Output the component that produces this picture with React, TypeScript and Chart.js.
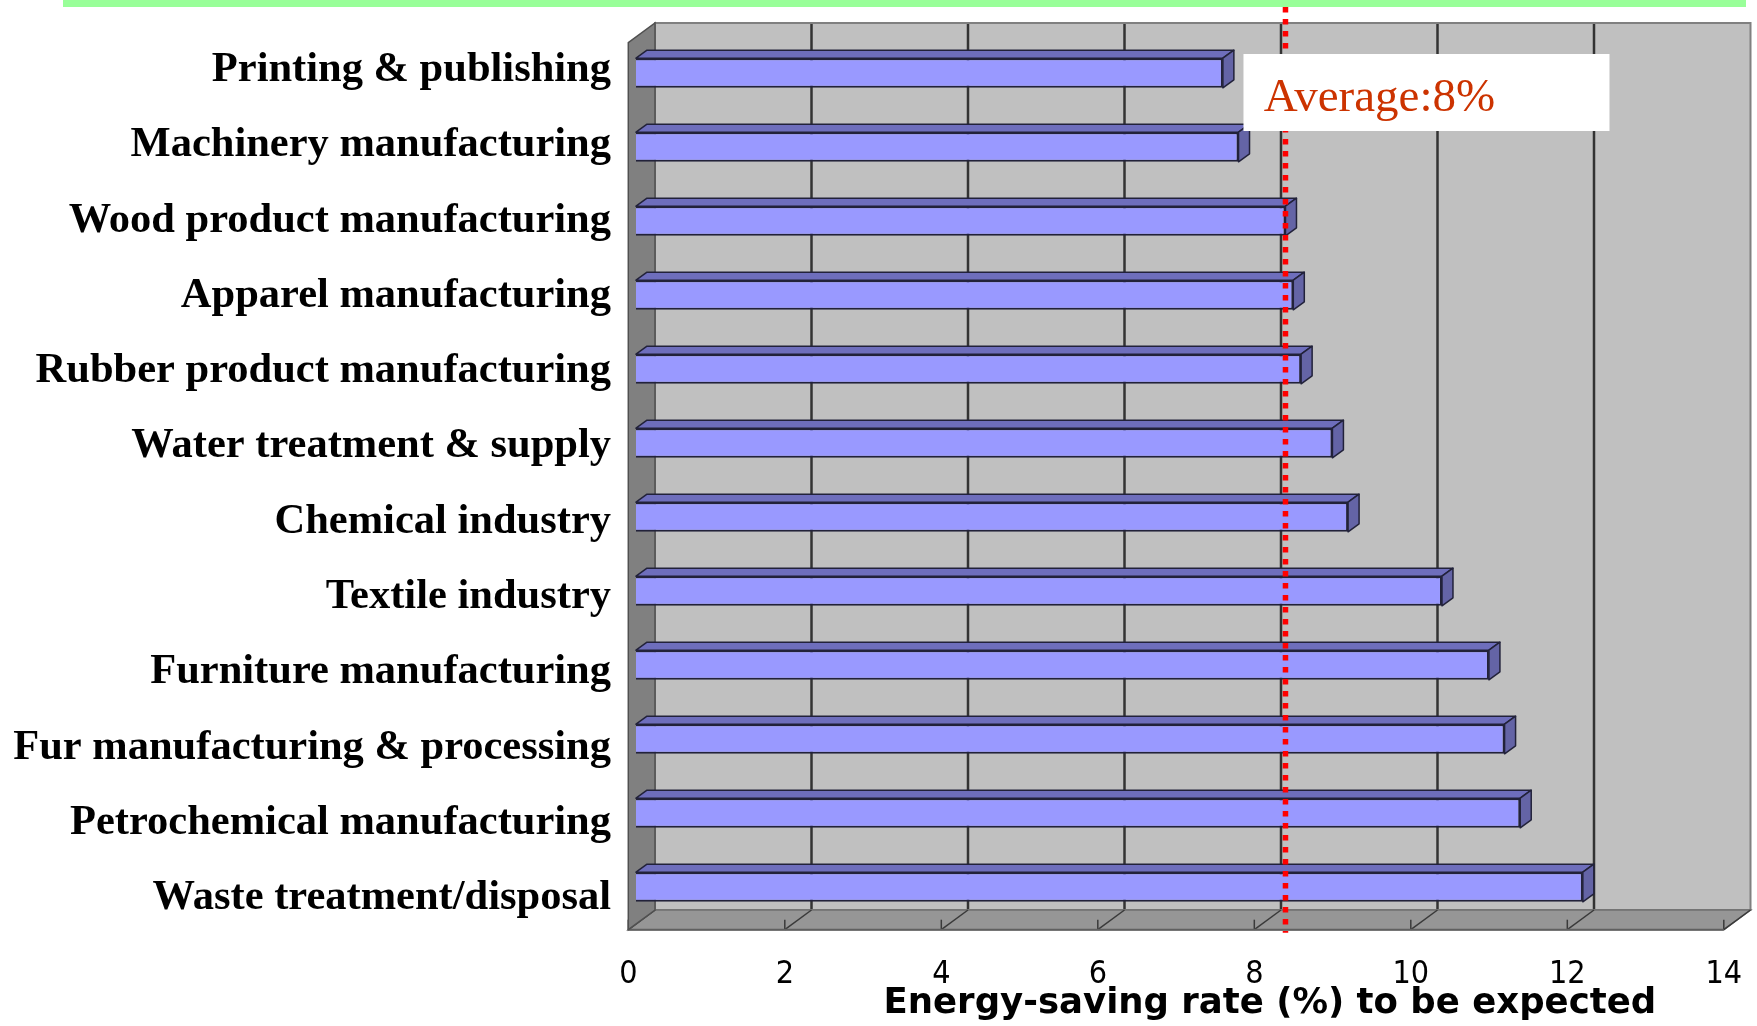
import { useEffect, useRef } from "react";
import { Chart, registerables } from "chart.js";

Chart.register(...registerables);

// ---------- data ----------
const categories = [
  "Printing & publishing",
  "Machinery manufacturing",
  "Wood product manufacturing",
  "Apparel manufacturing",
  "Rubber product manufacturing",
  "Water treatment & supply",
  "Chemical industry",
  "Textile industry",
  "Furniture manufacturing",
  "Fur manufacturing & processing",
  "Petrochemical manufacturing",
  "Waste treatment/disposal",
];
const savingRates = [7.5, 7.7, 8.3, 8.4, 8.5, 8.9, 9.1, 10.3, 10.9, 11.1, 11.3, 12.1];
const xTickValues = [0, 2, 4, 6, 8, 10, 12, 14];
const averageLineValue = 8.3;
const averageLabel = "Average:8%";
const xAxisTitle = "Energy-saving rate (%) to be expected";
const xAxisTitleCenterValue = 8.1;

// ---------- 3D styling constants ----------
const FRONT_DX = -7.7;
const FRONT_DY = 5.7;
const DEPTH_DX = 26.7;
const DEPTH_DY = -19.7;
const BAR_DX = 11;
const BAR_DY = -8;

function poly(ctx: CanvasRenderingContext2D, pts: number[][]) {
  ctx.beginPath();
  ctx.moveTo(pts[0][0], pts[0][1]);
  for (let i = 1; i < pts.length; i++) ctx.lineTo(pts[i][0], pts[i][1]);
  ctx.closePath();
}
function seg(ctx: CanvasRenderingContext2D, x1: number, y1: number, x2: number, y2: number) {
  ctx.beginPath();
  ctx.moveTo(x1, y1);
  ctx.lineTo(x2, y2);
  ctx.stroke();
}

const geometry = (chart: any) => {
  const ca = chart.chartArea;
  const xs = chart.scales.x;
  const front = (v: number) => xs.getPixelForValue(v) + FRONT_DX;
  const back = (v: number) => front(v) + DEPTH_DX;
  const floorF = ca.bottom + FRONT_DY;
  const floorB = floorF + DEPTH_DY;
  const topB = ca.top - 13;
  const topF = topB - DEPTH_DY;
  return { ca, xs, front, back, floorF, floorB, topB, topF };
};

const decorPlugin = {
  id: "decor3d",
  beforeDraw(chart: any) {
    const ctx = chart.ctx as CanvasRenderingContext2D;
    ctx.save();
    ctx.fillStyle = "#99FF99";
    ctx.fillRect(63, 0, 1683, 7);
    ctx.restore();
  },
  beforeDatasetsDraw(chart: any) {
    const ctx = chart.ctx as CanvasRenderingContext2D;
    const { front, back, floorF, floorB, topB, topF } = geometry(chart);
    const vMin = xTickValues[0];
    const vMax = xTickValues[xTickValues.length - 1];
    ctx.save();
    // back wall
    ctx.fillStyle = "#C0C0C0";
    ctx.fillRect(back(vMin), topB, back(vMax) - back(vMin), floorB - topB);
    // gridlines on back wall
    ctx.strokeStyle = "#333333";
    ctx.lineWidth = 2.5;
    for (const v of xTickValues) {
      if (v === vMin || v === vMax) continue;
      seg(ctx, back(v), topB, back(v), floorB);
    }
    ctx.strokeStyle = "#808080";
    ctx.lineWidth = 2;
    ctx.strokeRect(back(vMin), topB, back(vMax) - back(vMin), floorB - topB);
    // floor
    poly(ctx, [
      [front(vMin), floorF],
      [front(vMax), floorF],
      [back(vMax), floorB],
      [back(vMin), floorB],
    ]);
    ctx.fillStyle = "#969696";
    ctx.fill();
    ctx.strokeStyle = "#707070";
    ctx.lineWidth = 1.5;
    ctx.stroke();
    // floor diagonals + tick marks
    ctx.strokeStyle = "#3a3a3a";
    ctx.lineWidth = 1.5;
    for (const v of xTickValues) {
      seg(ctx, front(v), floorF, back(v), floorB);
      seg(ctx, front(v), floorF, front(v), floorF - 10);
    }
    ctx.strokeStyle = "#606060";
    ctx.lineWidth = 2;
    seg(ctx, front(vMin), floorF, front(vMax), floorF);
    // left wall
    poly(ctx, [
      [front(vMin), topF],
      [back(vMin), topB],
      [back(vMin), floorB],
      [front(vMin), floorF],
    ]);
    ctx.fillStyle = "#808080";
    ctx.fill();
    ctx.strokeStyle = "#505050";
    ctx.lineWidth = 1.5;
    ctx.stroke();
    ctx.restore();
  },
  afterDatasetsDraw(chart: any) {
    const ctx = chart.ctx as CanvasRenderingContext2D;
    const meta = chart.getDatasetMeta(0);
    ctx.save();
    ctx.lineWidth = 1.5;
    ctx.strokeStyle = "#22223a";
    ctx.lineJoin = "round";
    meta.data.forEach((bar: any) => {
      const { x, y, base, height } = bar.getProps(["x", "y", "base", "height"], true);
      const top = y - height / 2;
      const bottom = y + height / 2;
      poly(ctx, [
        [base, top],
        [x, top],
        [x + BAR_DX, top + BAR_DY],
        [base + BAR_DX, top + BAR_DY],
      ]);
      ctx.fillStyle = "#6E6EBC";
      ctx.fill();
      ctx.stroke();
      poly(ctx, [
        [x, top],
        [x + BAR_DX, top + BAR_DY],
        [x + BAR_DX, bottom + BAR_DY],
        [x, bottom],
      ]);
      ctx.fillStyle = "#6464A6";
      ctx.fill();
      ctx.stroke();
    });
    ctx.restore();
  },
  afterDraw(chart: any) {
    const ctx = chart.ctx as CanvasRenderingContext2D;
    const { ca, xs, floorF } = geometry(chart);
    const ax = xs.getPixelForValue(averageLineValue);
    ctx.save();
    // average dotted line
    ctx.strokeStyle = "#FF0000";
    ctx.lineWidth = 5.5;
    ctx.setLineDash([5.5, 6.5]);
    seg(ctx, ax, 7, ax, floorF + 3);
    ctx.setLineDash([]);
    // label box
    ctx.fillStyle = "#FFFFFF";
    ctx.fillRect(ax - 42, 54, 366, 77);
    ctx.fillStyle = "#CC3300";
    ctx.font = "47px 'Liberation Serif', 'Times New Roman', serif";
    ctx.textAlign = "left";
    ctx.textBaseline = "alphabetic";
    ctx.fillText(averageLabel, ax - 21.7, 110.7);
    // x-axis title
    ctx.fillStyle = "#000000";
    ctx.font = "bold 35.5px 'DejaVu Sans', sans-serif";
    ctx.textAlign = "center";
    ctx.fillText(xAxisTitle, xs.getPixelForValue(xAxisTitleCenterValue), ca.bottom + 89);
    ctx.restore();
  },
};

export default function App() {
  const canvasRef = useRef<HTMLCanvasElement | null>(null);

  useEffect(() => {
    if (!canvasRef.current) return;
    const labelMin = -0.4515;
    const labelMax = 11.341;
    const chart = new Chart(canvasRef.current, {
      type: "bar",
      data: {
        labels: categories,
        datasets: [
          {
            data: savingRates,
            backgroundColor: "#9999FF",
            borderColor: "#22223a",
            borderWidth: 2,
            barPercentage: 0.4,
            categoryPercentage: 1,
          },
        ],
      },
      options: {
        indexAxis: "y",
        responsive: false,
        animation: false,
        layout: { padding: { top: 36, right: 25.5, bottom: 0, left: 0 } },
        plugins: {
          legend: { display: false },
          tooltip: { enabled: false },
        },
        scales: {
          y: {
            type: "category",
            display: false,
            offset: true,
          },
          yText: {
            type: "linear",
            position: "left",
            reverse: true,
            offset: false,
            min: labelMin,
            max: labelMax,
            bounds: "data",
            afterBuildTicks: (s: any) => {
              s.ticks = categories.map((_, i) => ({ value: i }));
            },
            afterFit: (s: any) => {
              s.width = 636;
              s.paddingTop = 0;
              s.paddingBottom = 0;
            },
            ticks: {
              autoSkip: false,
              padding: 25,
              color: "#000000",
              font: { family: "'Liberation Serif', 'Times New Roman', serif", weight: "bold", size: 42.5 },
              callback: (v: any) => categories[Math.round(Number(v))] ?? "",
            },
            grid: { display: false, drawTicks: false, offset: false },
            border: { display: false },
          },
          x: {
            type: "linear",
            position: "bottom",
            offset: false,
            min: xTickValues[0],
            max: xTickValues[xTickValues.length - 1],
            afterBuildTicks: (s: any) => {
              s.ticks = xTickValues.map((v) => ({ value: v }));
            },
            afterFit: (s: any) => {
              s.height = 102;
              s.paddingLeft = 0;
              s.paddingRight = 0;
            },
            ticks: {
              autoSkip: false,
              maxRotation: 0,
              padding: 31,
              labelOffset: FRONT_DX,
              color: "#000000",
              font: {
                family: "'Liberation Sans Narrow', 'DejaVu Sans Condensed', 'Liberation Sans', sans-serif",
                size: 32,
              },
            },
            grid: { display: false, drawTicks: false },
            border: { display: false },
          },
        } as any,
      },
      plugins: [decorPlugin],
    });
    return () => chart.destroy();
  }, []);

  return (
    <div style={{ position: "absolute", left: 0, top: 0, width: 1757, height: 1026, background: "#FFFFFF" }}>
      <canvas ref={canvasRef} width={1757} height={1026} style={{ width: 1757, height: 1026, display: "block" }} />
    </div>
  );
}
